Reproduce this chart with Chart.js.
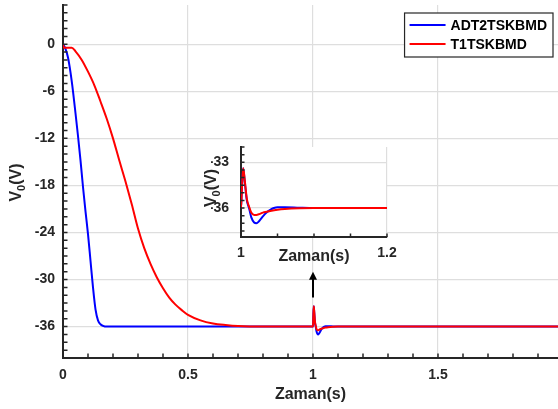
<!DOCTYPE html>
<html>
<head>
<meta charset="utf-8">
<script src="https://cdn.jsdelivr.net/npm/chart.js@4.4.1/dist/chart.umd.min.js"></script>
<style>
  body { margin: 0; background: #fff; }
  #wrap { position: relative; width: 558px; height: 409px; }
  #wrap canvas { position: absolute; left: 0; top: 0; }
</style>
</head>
<body>
<div id="wrap">
  <canvas id="mainChart" width="558" height="409"></canvas>
  <canvas id="insetChart" width="558" height="409"></canvas>
</div>
<script>
// series names
const seriesNames = ['ADT2TSKBMD', 'T1TSKBMD'];

// ADT2TSKBMD (blue)
const blueT = [0, 0.01, 0.02, 0.03, 0.04, 0.05, 0.06, 0.07, 0.08, 0.09, 0.1, 0.11, 0.12, 0.13, 0.14, 0.15, 0.16, 0.175, 0.2,
  1.0, 1.001, 1.003, 1.005, 1.008, 1.011, 1.014, 1.018, 1.021, 1.025, 1.03, 1.035, 1.04, 1.045, 1.05, 1.06, 1.08, 1.1, 1.98];
const blueV = [0, -0.6, -1.7, -3.6, -6, -8.8, -11.7, -14.8, -18.2, -21.3, -24.2, -27.6, -31, -33.8, -35.2, -35.7, -35.9, -36, -36,
  -36, -35, -33.4, -34.2, -35.5, -36.0, -36.6, -36.95, -37.0, -36.85, -36.55, -36.3, -36.12, -36.0, -35.95, -35.95, -35.98, -36, -36];

// T1TSKBMD (red)
const redT = [0, 0.004, 0.035, 0.05, 0.075, 0.1, 0.125, 0.15, 0.175, 0.2, 0.225, 0.25, 0.275, 0.3, 0.325, 0.35, 0.375, 0.4,
  0.425, 0.45, 0.475, 0.5, 0.55, 0.6, 0.65, 0.7, 0.8,
  1.0, 1.001, 1.003, 1.005, 1.008, 1.011, 1.014, 1.018, 1.021, 1.025, 1.03, 1.035, 1.04, 1.05, 1.06, 1.08, 1.1, 1.98];
const redV = [0, -0.45, -0.45, -0.9, -2.0, -3.5, -5.2, -7.3, -9.5, -12, -14.8, -17.5, -20.4, -23.5, -26.0, -28.0, -29.7, -31.1,
  -32.3, -33.2, -33.9, -34.5, -35.2, -35.6, -35.8, -35.93, -36,
  -36, -35, -33.4, -34.1, -35.4, -35.9, -36.3, -36.45, -36.45, -36.4, -36.3, -36.25, -36.2, -36.12, -36.07, -36.02, -36, -36];

// main axes ticks
const xTicks = [0, 0.5, 1, 1.5];
const yTicks = [0, -6, -12, -18, -24, -30, -36];
const xMinor = [0, 0.1, 0.2, 0.3, 0.4, 0.5, 0.6, 0.7, 0.8, 0.9, 1, 1.1, 1.2, 1.3, 1.4, 1.5, 1.6, 1.7, 1.8, 1.9];
const yMinor = [-40, -39, -38, -37, -36, -35, -34, -33, -32, -31, -30, -29, -28, -27, -26, -25, -24, -23, -22, -21, -20,
  -19, -18, -17, -16, -15, -14, -13, -12, -11, -10, -9, -8, -7, -6, -5, -4, -3, -2, -1, 0, 1, 2, 3, 4, 5];

// inset axes ticks
const insetXTicks = [1, 1.2];
const insetYTicks = [-33, -36];
const insetXMinor = [1, 1.05, 1.1, 1.15, 1.2];
const insetYMinor = [-37.5, -37, -36.5, -36, -35.5, -35, -34.5, -34, -33.5, -33, -32.5, -32];

const axisColor = '#262626';
const gridColor = '#dedede';
Chart.defaults.font.family = '"Liberation Sans", Arial, sans-serif';
Chart.defaults.color = axisColor;

const toPoints = (ts, vs) => ts.map((t, i) => ({ x: t, y: vs[i] }));

// red is drawn on top of blue (lower order = drawn last)
const makeDatasets = () => [
  { label: seriesNames[0], data: toPoints(blueT, blueV), borderColor: '#0000ff', borderWidth: 2, order: 2,
    pointRadius: 0, cubicInterpolationMode: 'monotone' },
  { label: seriesNames[1], data: toPoints(redT, redV), borderColor: '#ff0000', borderWidth: 2, order: 1,
    pointRadius: 0, cubicInterpolationMode: 'monotone' }
];

// draws V_0(V) rotated with a subscript
const drawVTitle = (ctx, cx, cy) => {
  ctx.save();
  ctx.translate(cx, cy);
  ctx.rotate(-Math.PI / 2);
  ctx.textBaseline = 'middle';
  ctx.textAlign = 'left';
  const big = 'bold 16px "Liberation Sans", Arial, sans-serif';
  const small = 'bold 11px "Liberation Sans", Arial, sans-serif';
  ctx.font = big;
  const w1 = ctx.measureText('V').width;
  const w3 = ctx.measureText('(V)').width;
  ctx.font = small;
  const w2 = ctx.measureText('0').width;
  let x0 = -(w1 + w2 + w3) / 2;
  ctx.font = big;
  ctx.fillText('V', x0, 0);
  ctx.font = small;
  ctx.fillText('0', x0 + w1, 5);
  ctx.font = big;
  ctx.fillText('(V)', x0 + w1 + w2, 0);
  ctx.restore();
};

const decorPlugin = {
  id: 'decor',
  beforeDraw(chart, args, opts) {
    if (!opts.fill) return;
    const a = chart.chartArea;
    chart.ctx.save();
    chart.ctx.fillStyle = opts.fill;
    chart.ctx.fillRect(a.left, a.top, a.right - a.left, a.bottom - a.top);
    chart.ctx.restore();
  },
  afterDraw(chart, args, opts) {
    const { ctx, chartArea: a } = chart;
    const x = chart.scales.x, y = chart.scales.y;
    ctx.save();
    // inward tick marks
    ctx.strokeStyle = axisColor;
    ctx.lineWidth = 1.5;
    ctx.beginPath();
    opts.xMinor.forEach(v => {
      const px = x.getPixelForValue(v);
      ctx.moveTo(px, a.bottom);
      ctx.lineTo(px, a.bottom - opts.tickLen);
    });
    opts.yMinor.forEach(v => {
      const py = y.getPixelForValue(v);
      ctx.moveTo(a.left, py);
      ctx.lineTo(a.left + opts.tickLen, py);
    });
    ctx.stroke();

    // axis titles
    ctx.fillStyle = axisColor;
    ctx.font = 'bold 16px "Liberation Sans", Arial, sans-serif';
    ctx.textAlign = 'center';
    ctx.textBaseline = 'middle';
    ctx.fillText('Zaman(s)', (a.left + a.right) / 2, a.bottom + opts.xTitleGap);
    drawVTitle(ctx, a.left - opts.yTitleGap, (a.top + a.bottom) / 2 + opts.yTitleShift);

    // arrow pointing at the disturbance
    if (opts.arrow) {
      const ax = x.getPixelForValue(opts.arrow.x);
      const tip = y.getPixelForValue(opts.arrow.to);
      const tail = y.getPixelForValue(opts.arrow.from);
      ctx.strokeStyle = '#000';
      ctx.fillStyle = '#000';
      ctx.lineWidth = 2;
      ctx.beginPath();
      ctx.moveTo(ax, tail);
      ctx.lineTo(ax, tip + 6);
      ctx.stroke();
      ctx.beginPath();
      ctx.moveTo(ax, tip);
      ctx.lineTo(ax - 4, tip + 8);
      ctx.lineTo(ax + 4, tip + 8);
      ctx.closePath();
      ctx.fill();
    }

    // legend box
    if (opts.legend) {
      ctx.font = 'bold 14px "Liberation Sans", Arial, sans-serif';
      const sets = chart.data.datasets;
      const textW = Math.max(...sets.map(d => ctx.measureText(d.label).width));
      const boxW = 5 + 36 + 5 + textW + 6;
      const boxH = 44;
      const bx = a.right - 5 - boxW, by = a.top + 8;
      ctx.fillStyle = '#fff';
      ctx.fillRect(bx, by, boxW, boxH);
      ctx.strokeStyle = axisColor;
      ctx.lineWidth = 1.2;
      ctx.strokeRect(bx, by, boxW, boxH);
      ctx.textAlign = 'left';
      ctx.textBaseline = 'middle';
      sets.forEach((d, i) => {
        const ly = by + 12 + i * 19;
        ctx.strokeStyle = d.borderColor;
        ctx.lineWidth = 2;
        ctx.beginPath();
        ctx.moveTo(bx + 5, ly);
        ctx.lineTo(bx + 41, ly);
        ctx.stroke();
        ctx.fillStyle = '#000';
        ctx.fillText(d.label, bx + 46, ly + 1);
      });
    }
    ctx.restore();
  }
};

const fixSize = (prop, size) => scale => {
  scale[prop] = size;
  scale.paddingTop = 0; scale.paddingBottom = 0;
  scale.paddingLeft = 0; scale.paddingRight = 0;
};

const makeScales = (xr, yr, xt, yt, yWidth, xHeight, pad) => ({
  x: {
    type: 'linear', min: xr[0], max: xr[1],
    afterBuildTicks: s => { s.ticks = xt.map(v => ({ value: v })); },
    afterFit: fixSize('height', xHeight),
    grid: { color: gridColor, lineWidth: 1.2, drawTicks: false },
    border: { color: axisColor, width: 2 },
    ticks: { padding: pad[0], maxRotation: 0, font: { size: 14, weight: 'bold' }, callback: v => String(v) }
  },
  y: {
    type: 'linear', min: yr[0], max: yr[1],
    afterBuildTicks: s => { s.ticks = yt.map(v => ({ value: v })); },
    afterFit: fixSize('width', yWidth),
    grid: { color: gridColor, lineWidth: 1.2, drawTicks: false },
    border: { color: axisColor, width: 2 },
    ticks: { padding: pad[1], font: { size: 14, weight: 'bold' }, callback: v => String(v) }
  }
});

new Chart(document.getElementById('mainChart'), {
  type: 'line',
  data: { datasets: makeDatasets() },
  options: {
    responsive: false,
    animation: false,
    layout: { padding: { left: 0, top: 5, right: 0, bottom: 0 } },
    scales: makeScales([0, 1.98], [-40, 5], xTicks, yTicks, 63, 51, [9, 8]),
    plugins: {
      legend: { display: false },
      tooltip: { enabled: false },
      decor: { xMinor: xMinor, yMinor: yMinor, tickLen: 4.5, xTitleGap: 37, yTitleGap: 46, yTitleShift: 1,
        arrow: { x: 1, from: -32.3, to: -29.0 }, legend: true }
    }
  },
  plugins: [decorPlugin]
});

new Chart(document.getElementById('insetChart'), {
  type: 'line',
  data: { datasets: makeDatasets() },
  options: {
    responsive: false,
    animation: false,
    layout: { padding: { left: 241 - 30, top: 147, right: 558 - 387, bottom: 409 - 237 - 30 } },
    scales: makeScales([1, 1.2], [-37.9, -32], insetXTicks, insetYTicks, 30, 30, [8, 12]),
    plugins: {
      legend: { display: false },
      tooltip: { enabled: false },
      decor: { fill: '#fff', xMinor: insetXMinor, yMinor: insetYMinor, tickLen: 3.5, xTitleGap: 20, yTitleGap: 29,
        yTitleShift: -4, arrow: null, legend: false }
    }
  },
  plugins: [decorPlugin]
});
</script>
</body>
</html>
